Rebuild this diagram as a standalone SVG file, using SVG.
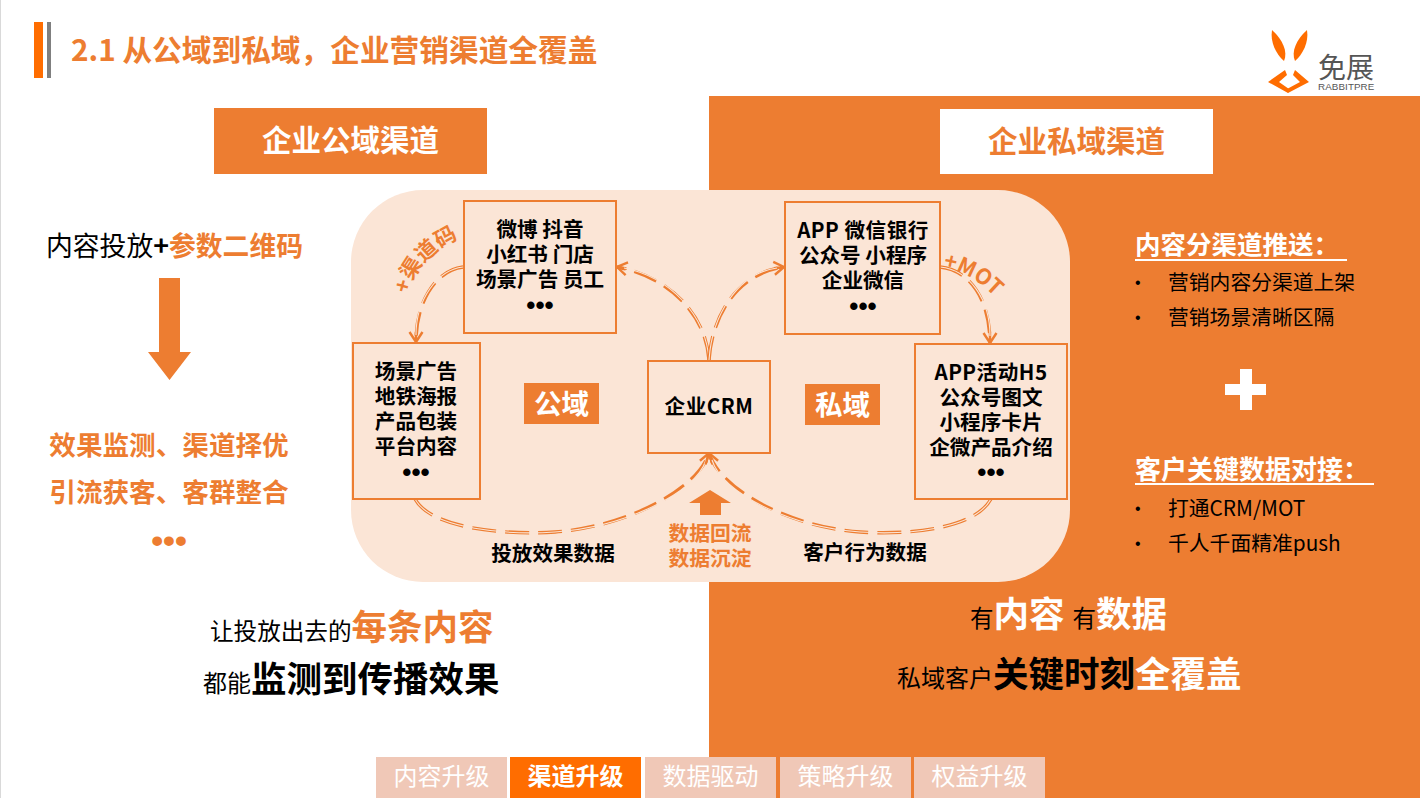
<svg xmlns="http://www.w3.org/2000/svg" width="1420" height="798" viewBox="0 0 1420 798">
<style>
text{font-family:"Noto Sans CJK SC","Microsoft YaHei",sans-serif}
.b{font-weight:700}
.m{text-anchor:middle}
.o{fill:#ED7D31}
.k{fill:#000}
.w{fill:#fff}
.node{fill:#FBE5D6;stroke:#ED7D31;stroke-width:2}
.n{font-size:20.6px;font-weight:700;fill:#000;text-anchor:middle}
.l{letter-spacing:.5px}
text.dots{font-family:"Liberation Sans",sans-serif;font-size:26px;font-weight:700;text-anchor:middle}
text.bu{font-family:"Liberation Sans",sans-serif;font-size:16px;fill:#000}
.d1{fill:none;stroke:#ED7D31;stroke-width:3.4;stroke-dasharray:24 9}
.d2{fill:none;stroke:#FBE5D6;stroke-width:1.1}
.s{font-size:20.8px;fill:#000}
.tab{fill:#F0C8B7}
.t{font-size:24px;fill:#fff;text-anchor:middle}
</style>
<defs>
<marker id="ah" markerUnits="userSpaceOnUse" markerWidth="18" markerHeight="18" refX="13" refY="9" orient="auto">
<path d="M3,2.500 L13,9 L3,15.500 M3,9 L13,9" fill="none" stroke="#ED7D31" stroke-width="2.400"/>
</marker>
<path id="pq" d="M409,294 C412,272 431,251 458,239"/>
<path id="pm" d="M943,268 C960,270 978,279 996,298"/>
</defs>
<rect width="1420" height="798" fill="#fff"/>
<rect x="0" y="0" width="1" height="798" fill="#D9D9D9"/>
<rect x="709" y="96" width="711" height="702" fill="#ED7D31"/>

<g id="title">
<rect x="34" y="22" width="9" height="56" fill="#FF6D00"/>
<rect x="47" y="22" width="4" height="56" fill="#7F7F7F"/>
<text x="71" y="61" class="b o" font-size="29.700">2.1 从公域到私域，企业营销渠道全覆盖</text>
</g>

<g id="logo">
<path d="M1272,30 C1283,40 1288,52 1284,61 C1276,54 1270,42 1272,30Z" fill="#FF6D00"/>
<path d="M1307,30 C1296,40 1291,52 1295,61 C1303,54 1309,42 1307,30Z" fill="#FF6D00"/>
<path d="M1285,70 L1268,82 L1288,93 L1289,89 L1279,82 L1287,75Z" fill="#FF6D00"/>
<path d="M1295,70 L1309,82 L1288,93 L1287,89 L1300,82 L1293,75Z" fill="#FF6D00"/>
<text x="1318" y="78" font-size="28" fill="#555">免展</text>
<text x="1318" y="90" font-size="9.800" fill="#555" style="font-family:'Liberation Sans',sans-serif" letter-spacing=".1">RABBITPRE</text>
</g>

<g id="public-header"><rect x="214" y="108" width="273" height="66" fill="#ED7D31"/><text x="350.500" y="151" class="b w m" font-size="29.500">企业公域渠道</text></g>
<g id="private-header"><rect x="940" y="109" width="273" height="65" fill="#fff"/><text x="1076.500" y="152" class="b o m" font-size="29.500">企业私域渠道</text></g>

<g id="public-left">
<text x="46" y="256" font-size="26.800" class="k">内容投放<tspan class="b">+</tspan><tspan class="b o">参数二维码</tspan></text>
<polygon points="159,278 180,278 180,352 191,352 169.500,380 148,352 159,352" fill="#ED7D31"/>
<text x="169" y="455" class="b o m" font-size="26.600">效果监测、渠道择优</text>
<text x="169" y="502" class="b o m" font-size="26.600">引流获客、客群整合</text>
<text x="169" y="552" class="dots o" style="font-size:34px">•••</text>
<text x="210" y="640" font-size="23.600" class="k">让投放出去的<tspan class="b o" font-size="35.500">每条内容</tspan></text>
<text x="203" y="692" font-size="24" class="k">都能<tspan class="b" font-size="35.500">监测到传播效果</tspan></text>
</g>

<g id="private-right">
<text x="1135" y="254" class="b w" font-size="25.500">内容分渠道推送：</text>
<rect x="1135" y="259" width="212" height="2" fill="#fff"/>
<text x="1135" y="288" class="bu">•</text><text x="1168" y="290" class="s">营销内容分渠道上架</text>
<text x="1135" y="323" class="bu">•</text><text x="1168" y="325" class="s">营销场景清晰区隔</text>
<path d="M1240,369H1252V384H1266V395H1252V410H1240V395H1225V384H1240Z" fill="#fff"/>
<text x="1135" y="479" class="b w" font-size="26">客户关键数据对接：</text>
<rect x="1135" y="483" width="239" height="2" fill="#fff"/>
<text x="1135" y="514" class="bu">•</text><text x="1168" y="516" class="s">打通CRM/MOT</text>
<text x="1135" y="549" class="bu">•</text><text x="1168" y="551" class="s">千人千面精准push</text>
<text x="970" y="627" font-size="23.500" class="k">有<tspan class="b w" font-size="35.500">内容</tspan><tspan dx="8">有</tspan><tspan class="b w" font-size="35.500">数据</tspan></text>
<text x="897" y="687" font-size="24" class="k">私域客户<tspan class="b" font-size="35.500">关键时刻</tspan><tspan class="b w" font-size="35.500">全覆盖</tspan></text>
</g>

<rect id="center-panel" x="351" y="190" width="719" height="392" rx="72" fill="#FBE5D6"/>

<g id="connectors">
<path class="d1" marker-end="url(#ah)" d="M463,267 C437,270 416,300 416,342"/>
<path class="d2" d="M463,267 C437,270 416,300 416,335"/>
<path class="d1" marker-end="url(#ah)" d="M709,360 C706,315 670,277 617,267"/>
<path class="d2" d="M709,360 C706,315 670,277 624,268"/>
<path class="d1" marker-end="url(#ah)" d="M709,360 C712,315 738,273 784,267"/>
<path class="d2" d="M709,360 C712,315 738,273 777,268"/>
<path class="d1" marker-end="url(#ah)" d="M940,267 C970,270 990,300 990,343"/>
<path class="d2" d="M940,267 C970,270 990,300 990,336"/>
<path class="d1" marker-end="url(#ah)" d="M415,499 C432,530 510,535 555,532 C625,527 698,490 709,453"/>
<path class="d2" d="M415,499 C432,530 510,535 555,532 C625,527 696,493 706,460"/>
<path class="d1" marker-end="url(#ah)" d="M991,499 C974,530 905,535 860,532 C790,527 720,490 709,453"/>
<path class="d2" d="M991,499 C974,530 905,535 860,532 C790,527 722,493 712,460"/>
</g>

<g id="node-public-channels"><rect class="node" x="464" y="201" width="152" height="132"/>
<text class="n" x="540" y="237">微博 抖音</text><text class="n" x="540" y="262">小红书 门店</text><text class="n" x="540" y="287">场景广告 员工</text><text class="n dots" x="540" y="314">•••</text></g>
<g id="node-private-channels"><rect class="node" x="785" y="202" width="155" height="132"/>
<text class="n l" x="863" y="238">APP 微信银行</text><text class="n" x="863" y="263">公众号 小程序</text><text class="n" x="863" y="288">企业微信</text><text class="n dots" x="863" y="315">•••</text></g>
<g id="node-public-content"><rect class="node" x="353" y="343" width="127" height="156"/>
<text class="n" x="416" y="379">场景广告</text><text class="n" x="416" y="404">地铁海报</text><text class="n" x="416" y="429">产品包装</text><text class="n" x="416" y="454">平台内容</text><text class="n dots" x="416" y="481">•••</text></g>
<g id="node-private-content"><rect class="node" x="915" y="344" width="152" height="155"/>
<text class="n l" x="991" y="380">APP活动H5</text><text class="n" x="991" y="405">公众号图文</text><text class="n" x="991" y="430">小程序卡片</text><text class="n" x="991" y="455">企微产品介绍</text><text class="n dots" x="991" y="481">•••</text></g>
<g id="node-crm"><rect class="node" x="648" y="361" width="122" height="92"/><text class="n l" x="709" y="414">企业CRM</text></g>

<g id="label-public"><rect x="524" y="383" width="75" height="41" fill="#ED7D31"/><text x="561.500" y="414" class="b w m" font-size="27.500">公域</text></g>
<g id="label-private"><rect x="805" y="384" width="75" height="41" fill="#ED7D31"/><text x="842.500" y="415" class="b w m" font-size="27.500">私域</text></g>

<g id="labels">
<text class="b o" font-size="21.500"><textPath href="#pq">+渠道码</textPath></text>
<text class="b o" font-size="21.500"><textPath href="#pm">+MOT</textPath></text>
<polygon points="710,490 731,503 721,503 721,515 700,515 700,503 689,503" fill="#ED7D31"/>
<text x="710" y="541" class="b o m" font-size="20.800">数据回流</text>
<text x="710" y="566" class="b o m" font-size="20.800">数据沉淀</text>
<text x="553" y="561" class="n">投放效果数据</text>
<text x="865" y="560" class="n">客户行为数据</text>
</g>

<g id="tabs">
<rect class="tab" x="376" y="757" width="131" height="41"/><text class="t" x="441.500" y="785">内容升级</text>
<rect x="510" y="757" width="131" height="41" fill="#FF6D00"/><text class="t b" x="575.500" y="785">渠道升级</text>
<rect class="tab" x="645" y="757" width="131" height="41"/><text class="t" x="710.500" y="785">数据驱动</text>
<rect class="tab" x="780" y="757" width="131" height="41"/><text class="t" x="845.500" y="785">策略升级</text>
<rect class="tab" x="914" y="757" width="131" height="41"/><text class="t" x="979.500" y="785">权益升级</text>
</g>
</svg>
